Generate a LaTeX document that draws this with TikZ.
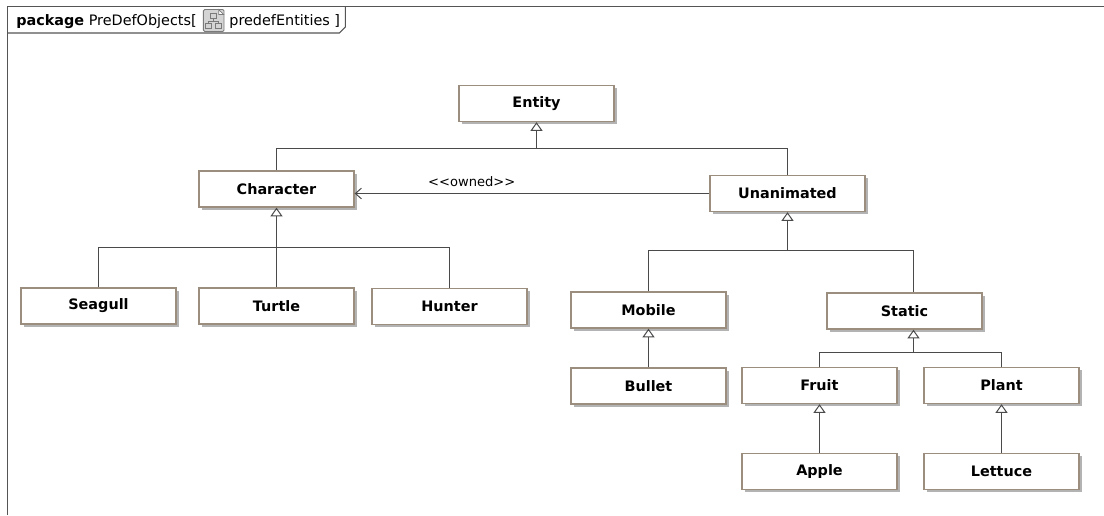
\documentclass[tikz,border=0pt]{standalone}
\usepackage{fontspec}
\setmainfont{DejaVu Sans}
\usetikzlibrary{arrows.meta,shadows}

\definecolor{boxline}{HTML}{9C8E7E}
\definecolor{shade}{HTML}{ABABAB}
\definecolor{wirecol}{HTML}{4A4A4A}
\definecolor{framecol}{HTML}{555555}
\definecolor{iconfill}{HTML}{D4D4D4}
\definecolor{icondraw}{HTML}{7A7A7A}

\newcommand{\clsfont}{\bfseries\fontsize{10.8}{12}\selectfont}
\newcommand{\hdrfont}{\fontsize{10.8}{12}\selectfont}
\newcommand{\lblfont}{\fontsize{9.8}{11}\selectfont}

\tikzset{
  cls/.style={draw=boxline, line width=1pt, fill=white,
    minimum width=116.25pt, minimum height=27pt, inner sep=0pt,
    font=\clsfont,
    drop shadow={shadow xshift=2.2pt, shadow yshift=-2.2pt, fill=shade, opacity=0.9}},
  wire/.style={draw=wirecol, line width=0.75pt},
  gen/.style={wire, -{Triangle[length=6.5pt, width=9pt, fill=white]}},
  assoc/.style={wire, -{Straight Barb[length=4.5pt, width=8pt]}},
  framepath/.style={draw=framecol, line width=0.9pt},
}

\begin{document}
\begin{tikzpicture}[x=0.75pt, y=-0.75pt]
\useasboundingbox (0,0) rectangle (1104,515);

% package frame
\draw[framepath] (7.5,515) -- (7.5,6.5) -- (1104,6.5);

% header of the package frame
\node[anchor=base west, inner sep=0pt, font=\hdrfont] (hdr) at (16,25)
  {\textbf{package} PreDefObjects[};
\node[anchor=west, draw=icondraw, fill=iconfill, line width=0.6pt,
      minimum width=15.5pt, minimum height=16.5pt, inner sep=0pt, rounded corners=1pt]
  (icon) at ([xshift=4.5pt]hdr.east |- 0,20.5) {};
\draw[icondraw, fill=white, line width=0.5pt]
  ([shift={(5,-11)}]icon.center) -- ([shift={(10,-6)}]icon.center) -- ([shift={(5,-6)}]icon.center) -- cycle;
\draw[icondraw, line width=0.6pt]
  ([shift={(-3,-7)}]icon.center) rectangle ([shift={(3,-2.5)}]icon.center)
  ([shift={(0,-2.5)}]icon.center) -- ([shift={(0,0.5)}]icon.center)
  ([shift={(-5,0.5)}]icon.center) -- ([shift={(5,0.5)}]icon.center)
  ([shift={(-5,0.5)}]icon.center) -- ([shift={(-5,3)}]icon.center)
  ([shift={(5,0.5)}]icon.center) -- ([shift={(5,3)}]icon.center)
  ([shift={(-8,3)}]icon.center) rectangle ([shift={(-2,7.5)}]icon.center)
  ([shift={(2,3)}]icon.center) rectangle ([shift={(8,7.5)}]icon.center);
\node[anchor=base west, inner sep=0pt, font=\hdrfont] (hdr2) at ([xshift=3.5pt]icon.east |- hdr.base)
  {predefEntities ]};
\path (hdr2.east) ++(5,0) coordinate (tabx);
\coordinate (tabA) at (tabx |- 0,33);
\draw[framepath] (7.5,33) -- ([xshift=-4.5pt]tabA) -- ([yshift=4.5pt]tabA) -- (tabx |- 0,6.5);

% classes
\node[cls] (Entity)     at (536.5,103.5) {Entity};
\node[cls] (Character)  at (276.5,189)   {Character};
\node[cls] (Unanimated) at (787.5,193.5) {Unanimated};
\node[cls] (Seagull)    at (98.5,306)    {Seagull};
\node[cls] (Turtle)     at (276.5,306)   {Turtle};
\node[cls] (Hunter)     at (449.5,306.5) {Hunter};
\node[cls] (Mobile)     at (648.5,310)   {Mobile};
\node[cls] (Static)     at (904.5,311)   {Static};
\node[cls] (Bullet)     at (648.5,386)   {Bullet};
\node[cls] (Fruit)      at (819.5,385.5) {Fruit};
\node[cls] (Plant)      at (1001.5,385.5) {Plant};
\node[cls] (Apple)      at (819.5,471.5) {Apple};
\node[cls] (Lettuce)    at (1001.5,471.5) {Lettuce};

% generalizations towards Entity
\coordinate (busE) at (Entity.south |- 0,148.5);
\draw[wire] (Character.north) |- (busE) -| (Unanimated.north);
\draw[gen] (busE) -- (Entity.south);

% generalizations towards Character
\coordinate (busC) at (Character.south |- 0,247.5);
\draw[wire] (Seagull.north) |- (busC) -| (Hunter.north);
\draw[wire] (Turtle.north) -- (busC);
\draw[gen] (busC) -- (Character.south);

% generalizations towards Unanimated
\coordinate (busU) at (Unanimated.south |- 0,250.5);
\coordinate (sTop) at ([xshift=6.75pt]Static.north);
\coordinate (sBot) at ([xshift=6.75pt]Static.south);
\draw[wire] (Mobile.north) |- (busU) -| (sTop);
\draw[gen] (busU) -- (Unanimated.south);

% generalizations towards Static
\coordinate (busS) at (sBot |- 0,352.5);
\draw[wire] (Fruit.north) |- (busS) -| (Plant.north);
\draw[gen] (busS) -- (sBot);

% single generalizations
\draw[gen] (Bullet.north) -- (Mobile.south);
\draw[gen] (Apple.north) -- (Fruit.south);
\draw[gen] (Lettuce.north) -- (Plant.south);

% association (kerns keep the angle brackets from merging into guillemets)
\draw[assoc] (Unanimated.west) -- (Character.east |- Unanimated.west)
  node[pos=0.67, above=4.5pt, inner sep=0pt, font=\lblfont] (owned)
  {<\kern0pt<owned>\kern0pt>};
\end{tikzpicture}
\end{document}
